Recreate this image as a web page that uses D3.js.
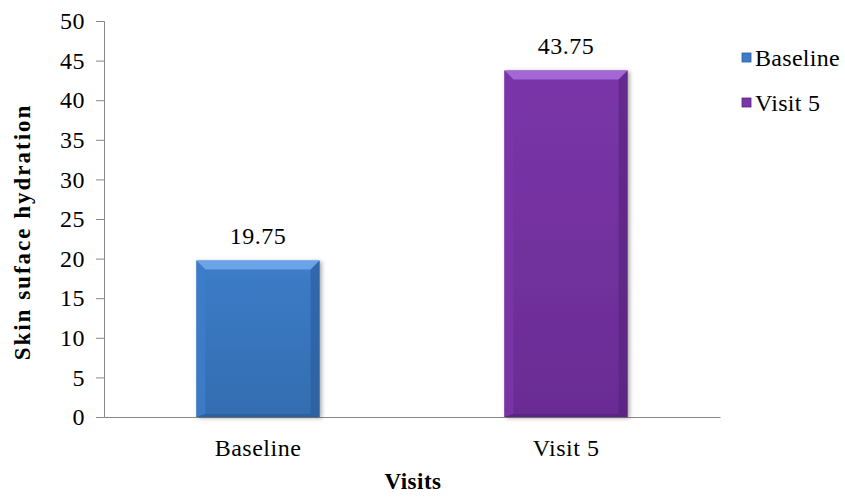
<!DOCTYPE html>
<html>
<head>
<meta charset="utf-8">
<script src="https://cdn.jsdelivr.net/npm/d3@7"></script>
<style>
  body { margin: 0; background: #fff; }
  svg text { font-family: "Times New Roman", "Liberation Serif", "DejaVu Serif", serif; fill: #000; }
</style>
</head>
<body>
<svg id="chart" width="845" height="497"></svg>
<script>
// data
const categories = ["Baseline", "Visit 5"];
const values = [19.75, 43.75];
const yTicks = [0, 5, 10, 15, 20, 25, 30, 35, 40, 45, 50];
const palette = [
  { main: "#3d7cc9", light: "#6aa3e8", dark: "#2a5c99", shade: "#336db0" },
  { main: "#7a36a8", light: "#a467d6", dark: "#55217a", shade: "#6a2c94" }
];

const FONT = '"Times New Roman", "Liberation Serif", serif';
const svg = d3.select("#chart");
const plotL = 104, plotR = 720, plotT = 21, plotB = 417;

const x = d3.scaleBand().domain(categories).range([plotL, plotR]).padding(0);
const y = d3.scaleLinear().domain([0, 50]).range([plotB, plotT]);

const defs = svg.append("defs");
const f = defs.append("filter").attr("id", "shadow").attr("x", "-20%").attr("y", "-20%").attr("width", "140%").attr("height", "140%");
f.append("feDropShadow").attr("dx", 2).attr("dy", 1).attr("stdDeviation", 2).attr("flood-color", "#000").attr("flood-opacity", 0.35);

palette.forEach((p, i) => {
  const g = defs.append("linearGradient").attr("id", "grad" + i).attr("x1", 0).attr("y1", 0).attr("x2", 0).attr("y2", 1);
  g.append("stop").attr("offset", "0%").attr("stop-color", p.main);
  g.append("stop").attr("offset", "100%").attr("stop-color", p.shade);
});

// y axis
const yAxis = svg.append("g")
  .attr("transform", `translate(${plotL},0)`)
  .call(d3.axisLeft(y).tickValues(yTicks).tickSize(8).tickPadding(11));
yAxis.attr("font-family", FONT).attr("font-size", 24).attr("letter-spacing", 0.5);
yAxis.select(".domain").attr("stroke", "#888");
yAxis.selectAll(".tick line").attr("stroke", "#888");
yAxis.selectAll(".tick text").attr("fill", "#000");

// x axis
const xAxis = svg.append("g")
  .attr("transform", `translate(0,${plotB})`)
  .call(d3.axisBottom(x).tickSize(0).tickPadding(22).tickSizeOuter(0));
xAxis.attr("font-family", FONT).attr("font-size", 24).attr("letter-spacing", 0.5);
xAxis.select(".domain").attr("stroke", "#888");
xAxis.selectAll(".tick text").attr("fill", "#000");

// bars
const barW = x.bandwidth() * 0.4;
const bev = 9;
const bars = svg.append("g").selectAll("g.bar")
  .data(categories.map((c, i) => ({ c, v: values[i], p: palette[i], i })))
  .join("g").attr("class", "bar");

bars.append("rect")
  .attr("x", d => x(d.c) + (x.bandwidth() - barW) / 2)
  .attr("y", d => y(d.v))
  .attr("width", barW)
  .attr("height", d => plotB - y(d.v))
  .attr("fill", d => `url(#grad${d.i})`)
  .attr("filter", "url(#shadow)");

// bevel edges
bars.each(function (d) {
  const g = d3.select(this);
  const x0 = x(d.c) + (x.bandwidth() - barW) / 2, x1 = x0 + barW;
  const y0 = y(d.v), y1 = plotB;
  g.append("polygon")
    .attr("points", [[x0, y0], [x1, y0], [x1 - bev, y0 + bev], [x0 + bev, y0 + bev]].join(" "))
    .attr("fill", d.p.light);
  g.append("polygon")
    .attr("points", [[x0, y0], [x0 + bev, y0 + bev], [x0 + bev, y1 - 3], [x0, y1]].join(" "))
    .attr("fill", d.p.main).attr("opacity", 0.85);
  g.append("polygon")
    .attr("points", [[x1, y0], [x1 - bev, y0 + bev], [x1 - bev, y1 - 3], [x1, y1]].join(" "))
    .attr("fill", d.p.dark).attr("opacity", 0.6);
  g.append("polygon")
    .attr("points", [[x0, y1], [x0 + bev, y1 - 3], [x1 - bev, y1 - 3], [x1, y1]].join(" "))
    .attr("fill", d.p.dark).attr("opacity", 0.7);
});

// value labels
bars.append("text")
  .attr("x", d => x(d.c) + x.bandwidth() / 2)
  .attr("y", d => y(d.v) - 17)
  .attr("text-anchor", "middle")
  .attr("font-size", 24)
  .attr("letter-spacing", 0.5)
  .text(d => d.v.toFixed(2));

// axis titles
svg.append("text")
  .attr("transform", `translate(30,232) rotate(-90)`)
  .attr("text-anchor", "middle")
  .attr("font-size", 23)
  .attr("font-weight", "bold")
  .attr("letter-spacing", 2)
  .text("Skin suface hydration");

svg.append("text")
  .attr("x", 413)
  .attr("y", 489)
  .attr("text-anchor", "middle")
  .attr("font-size", 23)
  .attr("font-weight", "bold")
  .attr("letter-spacing", 0.5)
  .text("Visits");

// legend
const legend = svg.append("g").selectAll("g")
  .data(categories.map((c, i) => ({ c, p: palette[i] })))
  .join("g")
  .attr("transform", (d, i) => `translate(742,${66 + i * 45})`);
legend.append("rect")
  .attr("width", 9).attr("height", 9).attr("y", -13)
  .attr("fill", d => d.p.main)
  .attr("stroke", d => d.p.dark).attr("stroke-width", 0.8);
legend.append("text")
  .attr("x", 13).attr("y", 0)
  .attr("font-size", 24)
  .attr("letter-spacing", 0.3)
  .text(d => d.c);
</script>
</body>
</html>
